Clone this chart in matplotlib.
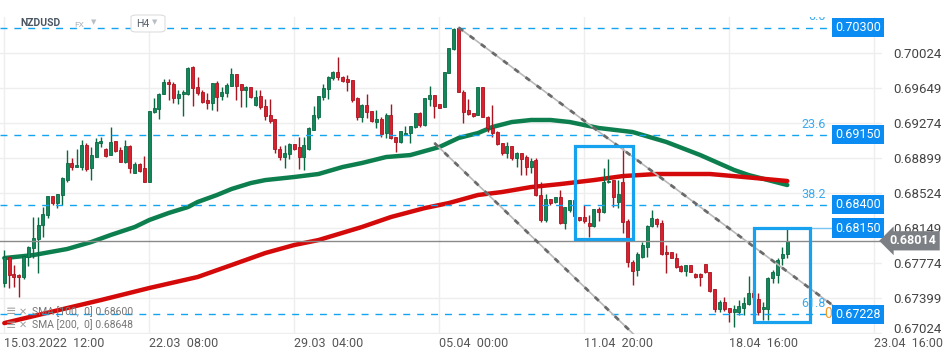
import matplotlib
matplotlib.use("Agg")
import matplotlib.pyplot as plt
import matplotlib.patches as patches
import matplotlib.transforms as mtransforms

plt.rcParams['font.family'] = ['Roboto', 'DejaVu Sans']

# NZDUSD H4 candles (index 0 = 15.03.2022 12:00)
opens = [0.67561, 0.67840, 0.67658, 0.67647, 0.67626, 0.67840, 0.67936, 0.68033, 0.68183, 0.68290,
         0.68494, 0.68419, 0.68505, 0.68665, 0.68848, 0.68805, 0.68805, 0.69041, 0.68794, 0.68912,
         0.69062, 0.68998, 0.68933, 0.69083, 0.68987, 0.68858, 0.69030, 0.68740, 0.68837, 0.68794,
         0.68644, 0.69394, 0.69427, 0.69587, 0.69716, 0.69695, 0.69544, 0.69587, 0.69587, 0.69877,
         0.69662, 0.69609, 0.69523, 0.69491, 0.69705, 0.69566, 0.69598, 0.69673, 0.69802, 0.69695,
         0.69630, 0.69662, 0.69469, 0.69566, 0.69459, 0.69362, 0.69319, 0.68998, 0.68912, 0.68944,
         0.69051, 0.69019, 0.68912, 0.68998, 0.69201, 0.69341, 0.69555, 0.69641, 0.69759, 0.69823,
         0.69770, 0.69748, 0.69737, 0.69544, 0.69341, 0.69469, 0.69405, 0.69287, 0.69319, 0.69169,
         0.69362, 0.69126, 0.69073, 0.69148, 0.69169, 0.69234, 0.69384, 0.69255, 0.69534, 0.69577,
         0.69480, 0.69448, 0.69812, 0.70070, 0.70290, 0.69609, 0.69416, 0.69384, 0.69362, 0.69662,
         0.69341, 0.69223, 0.69180, 0.69062, 0.68955, 0.69030, 0.68901, 0.68955, 0.68912, 0.68805,
         0.68880, 0.68505, 0.68237, 0.68462, 0.68430, 0.68483, 0.68204, 0.68344, 0.68451, 0.68269,
         0.68269, 0.68204, 0.68172, 0.68355, 0.68322, 0.68644, 0.68665, 0.68430, 0.68644, 0.68226,
         0.67786, 0.67701, 0.67840, 0.67947, 0.68172, 0.68247, 0.68204, 0.67894, 0.67894, 0.67829,
         0.67743, 0.67690, 0.67754, 0.67658, 0.67658, 0.67765, 0.67679, 0.67497, 0.67283, 0.67358,
         0.67293, 0.67250, 0.67250, 0.67293, 0.67336, 0.67454, 0.67390, 0.67283, 0.67283, 0.67615,
         0.67647, 0.67829, 0.67872]
highs = [0.67915, 0.67851, 0.67754, 0.67658, 0.67861, 0.67958, 0.68269, 0.68269, 0.68376, 0.68494,
         0.68494, 0.68515, 0.68698, 0.68987, 0.68901, 0.68998, 0.69094, 0.69062, 0.69019, 0.69116,
         0.69126, 0.69008, 0.69234, 0.69083, 0.69019, 0.69094, 0.69041, 0.68858, 0.68848, 0.68923,
         0.69405, 0.69544, 0.69598, 0.69748, 0.69748, 0.69716, 0.69630, 0.69630, 0.69877, 0.69887,
         0.69770, 0.69630, 0.69598, 0.69705, 0.69727, 0.69662, 0.69705, 0.69866, 0.69802, 0.69695,
         0.69673, 0.69662, 0.69630, 0.69630, 0.69534, 0.69534, 0.69319, 0.69030, 0.69041, 0.69062,
         0.69051, 0.69126, 0.69126, 0.69234, 0.69459, 0.69566, 0.69695, 0.69780, 0.69834, 0.69984,
         0.69780, 0.69791, 0.69737, 0.69555, 0.69480, 0.69587, 0.69405, 0.69416, 0.69341, 0.69384,
         0.69480, 0.69126, 0.69191, 0.69244, 0.69244, 0.69384, 0.69394, 0.69544, 0.69673, 0.69577,
         0.69480, 0.69823, 0.70080, 0.70290, 0.70300, 0.69630, 0.69534, 0.69384, 0.69662, 0.69662,
         0.69351, 0.69469, 0.69191, 0.69062, 0.69073, 0.69030, 0.68966, 0.68955, 0.68933, 0.68901,
         0.68901, 0.68644, 0.68515, 0.68462, 0.68483, 0.68558, 0.68376, 0.68451, 0.68462, 0.68269,
         0.68397, 0.68290, 0.68355, 0.68376, 0.68794, 0.68891, 0.68665, 0.68665, 0.69008, 0.68247,
         0.67808, 0.67894, 0.68001, 0.68183, 0.68344, 0.68258, 0.68237, 0.67969, 0.67894, 0.67883,
         0.67754, 0.67754, 0.67754, 0.67668, 0.67668, 0.67765, 0.67679, 0.67497, 0.67379, 0.67411,
         0.67293, 0.67325, 0.67379, 0.67411, 0.67636, 0.67486, 0.67454, 0.67358, 0.67626, 0.67701,
         0.67829, 0.67947, 0.68140]
lows = [0.67518, 0.67508, 0.67518, 0.67411, 0.67604, 0.67743, 0.67829, 0.67668, 0.68054, 0.68258,
        0.68397, 0.68365, 0.68397, 0.68644, 0.68773, 0.68805, 0.68773, 0.68762, 0.68665, 0.68912,
        0.69019, 0.68912, 0.68933, 0.68966, 0.68858, 0.68848, 0.68740, 0.68740, 0.68751, 0.68644,
        0.68644, 0.69384, 0.69319, 0.69587, 0.69523, 0.69491, 0.69480, 0.69351, 0.69577, 0.69459,
        0.69577, 0.69491, 0.69427, 0.69416, 0.69405, 0.69523, 0.69555, 0.69673, 0.69523, 0.69448,
        0.69448, 0.69544, 0.69459, 0.69427, 0.69309, 0.69276, 0.68955, 0.68880, 0.68794, 0.68891,
        0.68987, 0.68783, 0.68773, 0.68987, 0.69201, 0.69319, 0.69523, 0.69534, 0.69737, 0.69737,
        0.69716, 0.69619, 0.69502, 0.69309, 0.69287, 0.69330, 0.69287, 0.69223, 0.69126, 0.69116,
        0.69105, 0.68966, 0.69062, 0.69148, 0.69062, 0.69223, 0.69234, 0.69244, 0.69459, 0.69330,
        0.69437, 0.69448, 0.69812, 0.70059, 0.69609, 0.69276, 0.69362, 0.69341, 0.69362, 0.69341,
        0.69180, 0.69126, 0.69041, 0.68933, 0.68901, 0.68880, 0.68805, 0.68719, 0.68719, 0.68740,
        0.68494, 0.68215, 0.68215, 0.68397, 0.68419, 0.68194, 0.68140, 0.68322, 0.68258, 0.68226,
        0.68204, 0.68054, 0.68162, 0.68226, 0.68312, 0.68633, 0.68376, 0.68365, 0.68097, 0.67733,
        0.67540, 0.67636, 0.67829, 0.67840, 0.68162, 0.68162, 0.67861, 0.67668, 0.67829, 0.67722,
        0.67679, 0.67636, 0.67679, 0.67615, 0.67529, 0.67668, 0.67465, 0.67250, 0.67250, 0.67261,
        0.67143, 0.67090, 0.67218, 0.67218, 0.67325, 0.67390, 0.67218, 0.67165, 0.67165, 0.67561,
        0.67561, 0.67754, 0.67829]
closes = [0.67840, 0.67647, 0.67626, 0.67626, 0.67851, 0.67947, 0.68044, 0.68183, 0.68301, 0.68494,
          0.68419, 0.68515, 0.68687, 0.68848, 0.68805, 0.68826, 0.69041, 0.68783, 0.68933, 0.69073,
          0.69083, 0.68923, 0.69073, 0.68976, 0.68858, 0.69030, 0.68794, 0.68837, 0.68762, 0.68644,
          0.69405, 0.69437, 0.69587, 0.69716, 0.69695, 0.69544, 0.69587, 0.69609, 0.69866, 0.69652,
          0.69598, 0.69502, 0.69491, 0.69705, 0.69555, 0.69609, 0.69684, 0.69802, 0.69673, 0.69630,
          0.69662, 0.69555, 0.69555, 0.69448, 0.69351, 0.69298, 0.68998, 0.68912, 0.68955, 0.69051,
          0.68998, 0.68912, 0.69041, 0.69223, 0.69362, 0.69566, 0.69652, 0.69770, 0.69823, 0.69770,
          0.69727, 0.69716, 0.69523, 0.69341, 0.69469, 0.69394, 0.69298, 0.69319, 0.69159, 0.69362,
          0.69116, 0.69073, 0.69191, 0.69169, 0.69244, 0.69384, 0.69255, 0.69544, 0.69577, 0.69459,
          0.69437, 0.69823, 0.70080, 0.70284, 0.69609, 0.69394, 0.69373, 0.69351, 0.69662, 0.69341,
          0.69223, 0.69169, 0.69051, 0.68955, 0.69030, 0.68901, 0.68955, 0.68891, 0.68805, 0.68869,
          0.68505, 0.68237, 0.68462, 0.68419, 0.68483, 0.68204, 0.68376, 0.68451, 0.68279, 0.68237,
          0.68226, 0.68172, 0.68355, 0.68322, 0.68644, 0.68655, 0.68483, 0.68515, 0.68215, 0.67786,
          0.67690, 0.67872, 0.67969, 0.68172, 0.68258, 0.68194, 0.67872, 0.67872, 0.67829, 0.67733,
          0.67690, 0.67754, 0.67679, 0.67626, 0.67626, 0.67679, 0.67475, 0.67283, 0.67358, 0.67283,
          0.67250, 0.67283, 0.67315, 0.67347, 0.67454, 0.67411, 0.67250, 0.67304, 0.67615, 0.67679,
          0.67808, 0.67872, 0.68014]

# moving averages (read at a few candles, drawn as polylines)
sma100_idx = [0, 6, 13, 18, 22, 27, 30, 34, 38, 40, 44, 47, 51, 54, 60, 65, 70, 74, 79, 84,
              87, 90, 94, 98, 101, 105, 109, 113, 117, 123, 130, 137, 144, 151, 154, 162]
sma100_val = [0.67829, 0.67861, 0.67926, 0.68001, 0.68076, 0.68162, 0.68237, 0.68312, 0.68376,
              0.68430, 0.68505, 0.68569, 0.68633, 0.68665, 0.68698, 0.68730, 0.68805, 0.68848,
              0.68912, 0.68933, 0.68976, 0.69019, 0.69116, 0.69169, 0.69234, 0.69287, 0.69309,
              0.69309, 0.69287, 0.69223, 0.69180, 0.69073, 0.68933, 0.68773, 0.68719, 0.68612]
sma200_idx = [0, 13, 20, 30, 40, 47, 54, 60, 65, 74, 80, 87, 92, 98, 103, 109, 115, 122, 128,
              135, 146, 153, 162]
sma200_val = [0.67132, 0.67293, 0.67379, 0.67508, 0.67626, 0.67754, 0.67883, 0.67969, 0.68022,
              0.68162, 0.68269, 0.68365, 0.68419, 0.68505, 0.68537, 0.68590, 0.68622, 0.68665,
              0.68708, 0.68730, 0.68730, 0.68698, 0.68655]
sma_legend = ["SMA [100,  0] 0.68600", "SMA [200,  0] 0.68648"]

# fibonacci levels and other drawn objects
fib_levels = [0.70300, 0.69150, 0.68400, 0.67228]
fib_names = ["0.0", "23.6", "38.2", "61.8"]
box_level = 0.68150
last_price = 0.68014
channel_upper = ([94, 173], [0.70300, 0.67261])
channel_lower = ([89, 146], [0.69062, 0.66227])
boxes = [(118.1, 0.68036, 130.0, 0.69030), (155.1, 0.67148, 166.7, 0.68150)]

price_ticks = [0.67024, 0.67399, 0.67774, 0.68149, 0.68524, 0.68899, 0.69274, 0.69649, 0.70024]
date_pos = [0, 30, 60, 90, 120, 150, 180]
date_labels = ["15.03.2022  12:00", "22.03  08:00", "29.03  04:00", "05.04  00:00",
               "11.04  20:00", "18.04  16:00", "23.04  16:00"]

GREEN = '#12885a'
RED = '#d9202e'
FIB = '#12a4f2'
LABEL_BG = '#0a8cf2'

fig = plt.figure(figsize=(9.5, 3.58), dpi=100)
# plot area: pixels 0..882 wide, 17..334 from the top
ax = fig.add_axes([0, 24 / 358, 882 / 950, 317 / 358])
ax.set_xlim(-0.89, 181.6)
ax.set_ylim(0.67015, 0.70413)
for s in ax.spines.values():
    s.set_visible(False)

# grid
ax.set_yticks(price_ticks)
ax.set_yticklabels([f"{p:.5f}" for p in price_ticks])
ax.yaxis.tick_right()
ax.set_xticks(date_pos)
ax.set_xticklabels(date_labels, ha='left')
ax.tick_params(axis='y', length=0, pad=8, labelsize=9.5, labelcolor='#444444')
ax.tick_params(axis='x', length=0, pad=2, labelsize=9, labelcolor='#555555')
ax.grid(True, color='#eeeeee', lw=1, zorder=0)
ax.set_axisbelow(True)
# lowest price label sits a bit higher
lbl = ax.get_yticklabels()[0]
lbl.set_transform(lbl.get_transform() + mtransforms.ScaledTranslation(0, 5 / 100, fig.dpi_scale_trans))

# moving averages
ax.plot(sma100_idx, sma100_val, color='#0d7f4f', lw=3.2, zorder=2, solid_capstyle='round')
ax.plot(sma200_idx, sma200_val, color='#d40a0a', lw=3.2, zorder=2, solid_capstyle='round')

# candles
for i, (o, h, l, c) in enumerate(zip(opens, highs, lows, closes)):
    col = GREEN if c >= o else RED
    edge = '#0a6842' if c >= o else '#a8141f'
    ax.vlines(i, l, h, color=edge, lw=1, zorder=3)
    ax.bar(i, max(abs(c - o), 0.00003), bottom=min(o, c), width=0.62,
           color=col, edgecolor=edge, lw=0.6, zorder=3)

# fibonacci lines
for lev, name in zip(fib_levels, fib_names):
    ax.hlines(lev, -0.89, 170.4, color=FIB, lw=1, linestyles=(0, (5, 5)), zorder=4)
    t = ax.text(170.0, lev + 0.00045, name, color='#3aaaf0', fontsize=9, ha='right', va='bottom',
                zorder=7)
    t.set_clip_box(ax.bbox)
    t.set_clip_on(True)
ax.text(169.7, fib_levels[-1], "0", color='#f59a23', fontsize=10, ha='left', va='center', zorder=7)

# current price line
ax.axhline(last_price, color='#8a8a8a', lw=1, zorder=4)

# channel
for xs, ys in (channel_upper, channel_lower):
    ax.plot(xs, ys, color='#b8b8b8', lw=1.2, zorder=5)
    ax.plot(xs, ys, color='#6a6a6a', lw=2, linestyle=(0, (2, 3)), zorder=5)

# highlight boxes
for x0, y0, x1, y1 in boxes:
    ax.add_patch(patches.Rectangle((x0, y0), x1 - x0, y1 - y0, fill=False,
                                   ec='#17a2f0', lw=2.3, zorder=6))
ax.plot([boxes[1][2], 171.5], [box_level, box_level], color='#7cc6f4', lw=1, zorder=5)

# price tags
for lev in fib_levels + [box_level]:
    ax.text(171.9, lev, f"{lev:.5f}", color='white', fontsize=9, ha='left', va='center',
            bbox=dict(boxstyle='square,pad=0.25', fc=LABEL_BG, ec='none'),
            zorder=8, clip_on=False)
ax.text(183.2, last_price, f"{last_price:.5f}", color='white', fontsize=9, fontweight='bold',
        ha='left', va='center', zorder=8, clip_on=False,
        bbox=dict(boxstyle='larrow,pad=0.25', fc='#7c8084', ec='none'))

# header
fig.text(20 / 950, 1 - 23 / 358, "NZDUSD", fontsize=7.5, fontweight='bold', color='#4b5663', va='center')
fig.text(74 / 950, 1 - 25 / 358, "FX", fontsize=6, color='#a9b0b8', va='center')
fig.text(91 / 950, 1 - 22 / 358, "\u25bc", fontsize=5, color='#b8bec4', va='center', family='DejaVu Sans')
fig.patches.append(patches.FancyBboxPatch((131 / 950, 1 - 32 / 358), 34 / 950, 17 / 358,
                                          boxstyle='round,pad=0,rounding_size=0.006',
                                          transform=fig.transFigure, fc='white', ec='#dddddd', lw=0.8))
fig.text(136 / 950, 1 - 24 / 358, "H4", fontsize=7.5, color='#555f69', va='center')
fig.text(152 / 950, 1 - 22 / 358, "\u25bc", fontsize=5, color='#b8bec4', va='center', family='DejaVu Sans')

# indicator legend
for k, txt in enumerate(sma_legend):
    yy = 1 - (312 + 13 * k) / 358
    fig.text(6 / 950, yy, "\u2261", fontsize=9, color='#a0a0a0', va='center', family='DejaVu Sans')
    fig.text(19 / 950, yy, "\u2715", fontsize=7, color='#a0a0a0', va='center', family='DejaVu Sans')
    fig.text(32 / 950, yy, txt, fontsize=7.5, color='#777777', va='center')

fig.savefig("out.png", dpi=100)
